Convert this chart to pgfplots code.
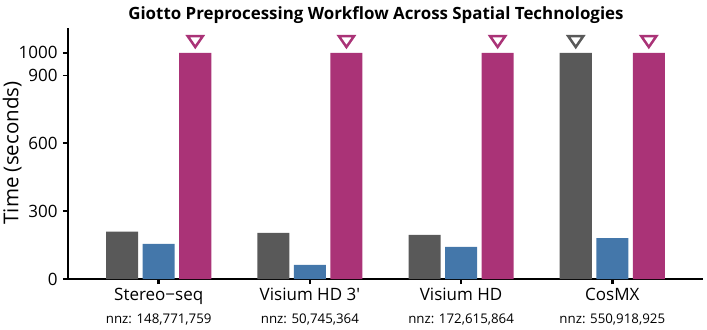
\documentclass[border=0pt]{standalone}
\usepackage{pgfplots}
\pgfplotsset{compat=1.18}
\usepackage{fontspec}
\setmainfont{Open Sans}
\definecolor{cgray}{HTML}{595959}
\definecolor{cblue}{HTML}{4477AA}
\definecolor{cmag}{HTML}{AA3377}
\begin{document}
\begin{tikzpicture}
\path[use as bounding box] (0,0) rectangle (707bp,330bp);
\begin{axis}[
  at={(68bp,51bp)}, anchor=south west,
  scale only axis, width=635bp, height=251bp,
  xmin=-0.6, xmax=3.6, ymin=0, ymax=1110,
  axis lines*=left,
  axis line style={line width=2.2bp, black},
  xtick={0,1,2,3},
  xticklabels={Stereo\textminus seq, Visium HD 3\textquotesingle, Visium HD, CosMX},
  xticklabel style={anchor=base, yshift=-16bp, font=\fontsize{17bp}{19bp}\selectfont},
  extra x ticks={0,1,2,3},
  extra x tick labels={{nnz: 148,771,759}, {nnz: 50,745,364}, {nnz: 172,615,864}, {nnz: 550,918,925}},
  extra x tick style={major tick style={draw=none}, xticklabel style={yshift=-23bp, font=\fontsize{13.3bp}{15bp}\selectfont}},
  x tick style={line width=2.5bp, black},
  y tick style={line width=1.8bp, black},
  major tick length=5bp,
  tick align=outside,
  ytick={0,300,600,900,1000},
  yticklabels={0,300,600,900,1000},
  every y tick label/.append style={font=\fontsize{17bp}{19bp}\selectfont, xshift=-2bp},
  clip=false,
]
\addplot[ybar, bar width=0.212, bar shift=-0.2417, fill=cgray, draw=none] coordinates {(0,209) (1,204) (2,195) (3,1000)};
\addplot[ybar, bar width=0.212, bar shift=0, fill=cblue, draw=none] coordinates {(0,155) (1,62) (2,142) (3,181)};
\addplot[ybar, bar width=0.212, bar shift=0.2417, fill=cmag, draw=none] coordinates {(0,1000) (1,1000) (2,1000) (3,1000)};
\addplot[only marks, mark=triangle, mark size=7.3bp, mark options={rotate=180, xscale=1.2, line width=2.5bp, draw=cmag, fill=white}] coordinates {(0.2417,1058) (1.2417,1058) (2.2417,1058) (3.2417,1058)};
\addplot[only marks, mark=triangle, mark size=7.3bp, mark options={rotate=180, xscale=1.2, line width=2.5bp, draw=cgray, fill=white}] coordinates {(2.7583,1058)};
\node[font=\bfseries\fontsize{16.9bp}{19bp}\selectfont, anchor=center] at (rel axis cs:0.485,1.052) {Giotto Preprocessing Workflow Across Spatial Technologies};
\node[rotate=90, font=\fontsize{20.5bp}{22bp}\selectfont, anchor=center] at (rel axis cs:-0.088,0.502) {Time (seconds)};
\end{axis}
\end{tikzpicture}
\end{document}
